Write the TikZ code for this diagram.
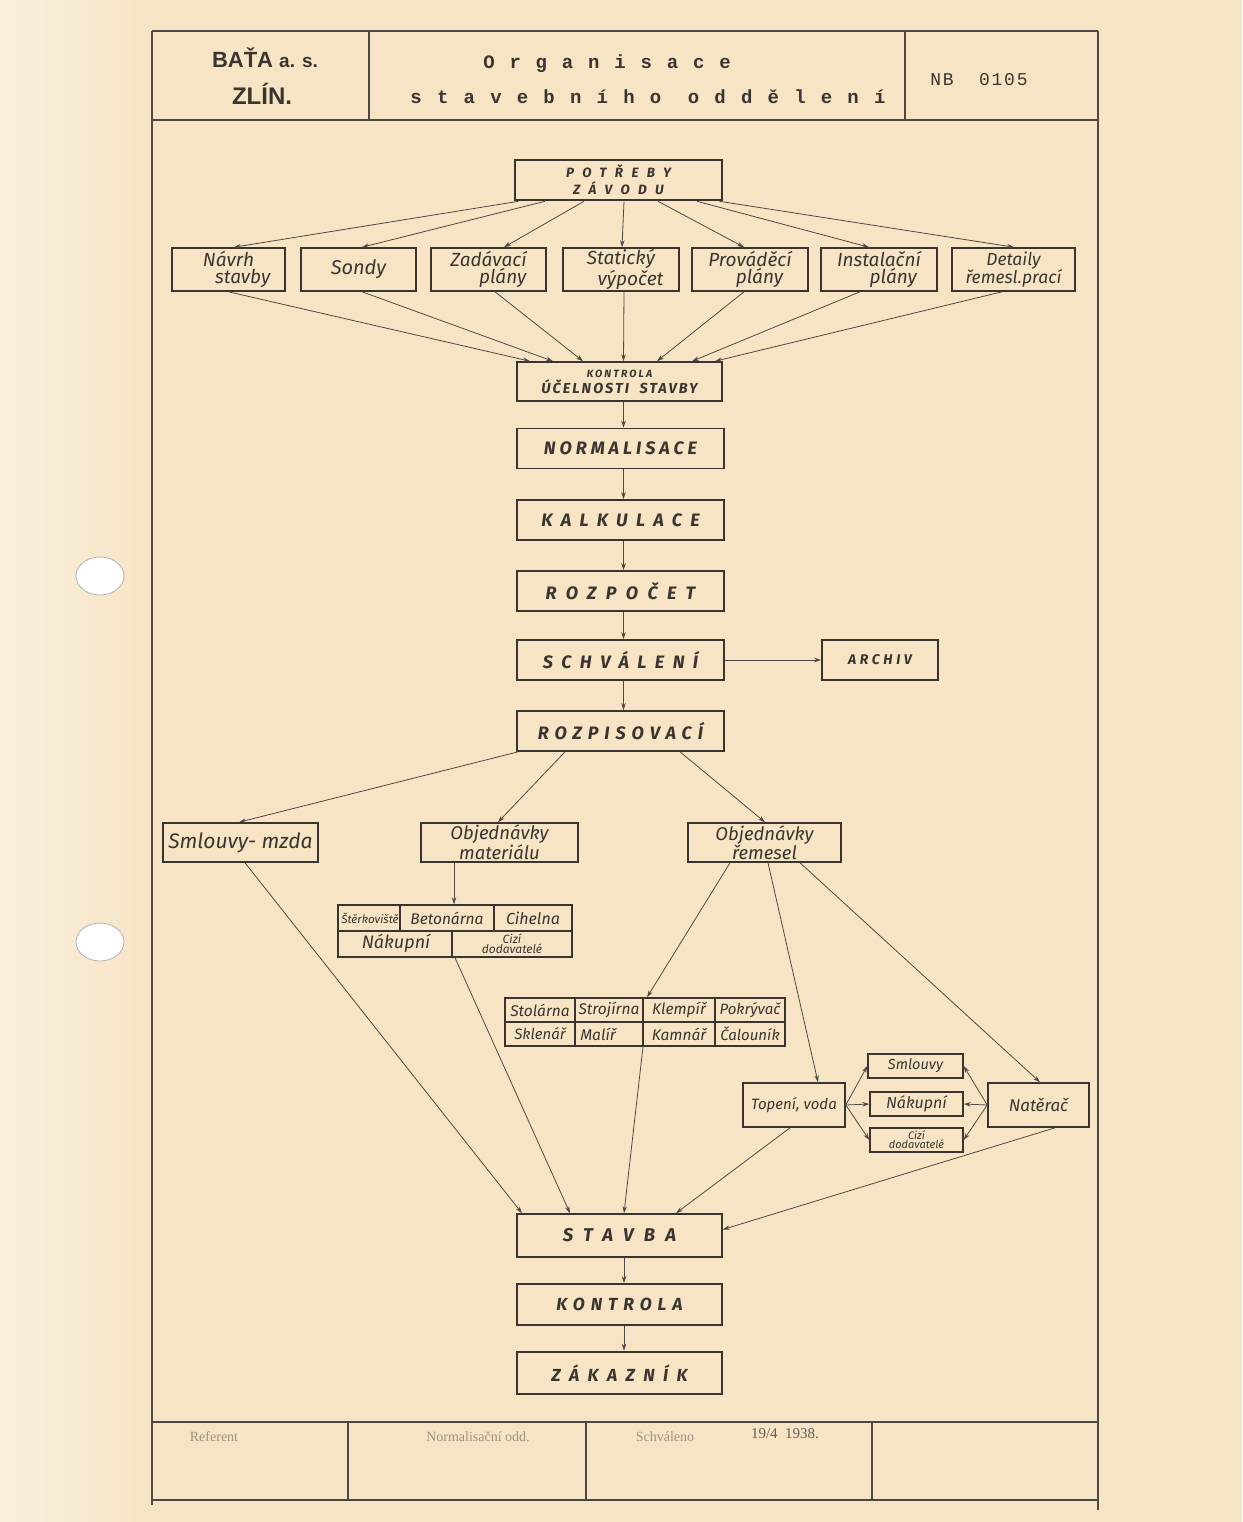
\documentclass[tikz,border=0pt]{standalone}
\usepackage{fontspec}
\usetikzlibrary{arrows.meta,calc}
\setmainfont{Fira Sans}
\newfontfamily\handf{Fira Sans}
\newfontfamily\capsf{Fira Sans}
\newfontfamily\typef{Liberation Mono}
\newfontfamily\boldsf{Liberation Sans}
\newfontfamily\fadedf{Liberation Serif}
\definecolor{paper}{HTML}{F6E4C5}
\definecolor{paperlight}{HTML}{FAF0DF}
\definecolor{ink}{HTML}{3A3430}
\definecolor{fadeink}{HTML}{9C9284}
\tikzset{
  box/.style={draw=ink, line width=1.6pt, rectangle, inner sep=0pt, align=center, text=ink},
  thickbox/.style={box, line width=2.6pt},
  cell/.style={draw=ink, line width=1.1pt},
  arr/.style={draw=ink!90, line width=0.8pt, -{Stealth[length=7pt,width=4.5pt]}},
  frame/.style={draw=ink!90, line width=2.2pt},
  caps/.style 2 args={font=\capsf\bfseries\itshape\fontsize{#1}{#1}\selectfont\addfontfeature{LetterSpace=#2}},
  hand/.style 2 args={font=\handf\itshape\fontsize{#1}{#2}\selectfont},
  lbl/.style={inner sep=0pt, text=ink, align=center},
}
\begin{document}
\begin{tikzpicture}[x=1pt,y=-1pt]
\useasboundingbox (0,0) rectangle (1242,1522);
\fill[paper] (0,0) rectangle (1242,1522);
\shade[left color=paperlight, right color=paper] (0,0) rectangle (150,1522);
% punch holes
\fill[white, draw=black!30, line width=0.8pt] (100,576) ellipse (24pt and 19pt);
\fill[white, draw=black!30, line width=0.8pt] (100,942) ellipse (24pt and 19pt);

% frame
\draw[frame] (152,31) -- (1098,31);
\draw[frame] (152,31) -- (152,1505);
\draw[frame] (1098,31) -- (1098,1510);
\draw[frame, line width=1.6pt] (152,120) -- (1098,120);
\draw[frame, line width=1.6pt] (369,31) -- (369,120);
\draw[frame, line width=1.6pt] (905,31) -- (905,120);
\draw[frame, line width=1.4pt] (152,1422) -- (1098,1422);
\draw[frame, line width=1.8pt] (152,1500) -- (1098,1500);
\draw[frame, line width=1.2pt] (348,1422) -- (348,1500);
\draw[frame, line width=1.2pt] (586,1422) -- (586,1500);
\draw[frame, line width=1.2pt] (872,1422) -- (872,1500);

% header
\node[lbl, font=\boldsf\bfseries\fontsize{22}{22}\selectfont] (bata) at (265,58) {BAŤA {\fontsize{19}{19}\selectfont a. s.}};
\node[lbl, font=\boldsf\bfseries\fontsize{24}{24}\selectfont] (zlin) at (262,94) {ZLÍN.};
\node[lbl, font=\typef\bfseries\fontsize{19}{19}\selectfont\addfontfeature{LetterSpace=78}] (org) at (607,64) {Organisace};
\node[lbl, font=\typef\bfseries\fontsize{19}{19}\selectfont\addfontfeature{LetterSpace=80}] (stav) at (648,97) {stavebního oddělení};
\node[lbl, font=\typef\fontsize{18}{18}\selectfont\addfontfeature{LetterSpace=10}] (nb) at (979,80) {NB\ \ 0105};

% footer
\node[lbl, text=fadeink, font=\fadedf\fontsize{14}{14}\selectfont] (ref) at (214,1437) {Referent};
\node[lbl, text=fadeink, font=\fadedf\fontsize{14}{14}\selectfont] (norm2) at (478,1437) {Normalisační odd.};
\node[lbl, text=fadeink, font=\fadedf\fontsize{14}{14}\selectfont] (schv2) at (665,1437) {Schváleno};
\node[lbl, text=ink!80, font=\fadedf\fontsize{15}{15}\selectfont] (date) at (785,1434) {19/4\ \ 1938.};

% main boxes
\node[thickbox, minimum width=207pt, minimum height=40pt, caps={13.5}{62}] (pot) at (618.5,180) {POTŘEBY\\[4pt]ZÁVODU};

\node[box, minimum width=113pt, minimum height=43pt, hand={19}{17}] (navrh) at (228.5,269.5) {Návrh\\\hspace*{1.5em}stavby};
\node[box, minimum width=115pt, minimum height=43pt, hand={20}{17}] (sondy) at (358.5,269.5) {Sondy};
\node[box, minimum width=115pt, minimum height=43pt, hand={19}{17}] (zadav) at (488.5,269.5) {Zadávací\\\hspace*{1.5em}plány};
\node[box, minimum width=116pt, minimum height=43pt, hand={19}{17}] (stat) at (621,269.5) {Statický\\\hspace*{1em}výpočet};
\node[box, minimum width=116pt, minimum height=43pt, hand={19}{17}] (provad) at (750,269.5) {Prováděcí\\\hspace*{1em}plány};
\node[box, minimum width=116pt, minimum height=43pt, hand={19}{17}] (instal) at (879,269.5) {Instalační\\\hspace*{1.5em}plány};
\node[box, minimum width=123pt, minimum height=43pt, hand={17.5}{17}] (detail) at (1013.5,269.5) {Detaily\\řemesl.prací};

\node[box, minimum width=205pt, minimum height=39pt] (kucel) at (619.5,381.5)
  {{\capsf\bfseries\itshape\fontsize{10.5}{11}\selectfont\addfontfeature{LetterSpace=20}KONTROLA}\\[1pt]
   {\capsf\bfseries\itshape\fontsize{14.5}{14}\selectfont\addfontfeature{LetterSpace=14}ÚČELNOSTI\ \ STAVBY}};

\node[box, minimum width=207pt, minimum height=40pt, caps={18}{22}] (normal) at (620.5,448.5) {NORMALISACE};
\node[box, minimum width=207pt, minimum height=40pt, caps={18}{46}] (kalk) at (620.5,520) {KALKULACE};
\node[box, minimum width=207pt, minimum height=40pt, caps={18}{52}] (rozp) at (620.5,591) {ROZPOČET};
\node[box, minimum width=207pt, minimum height=40pt, caps={18}{47}] (schv) at (620.5,660) {SCHVÁLENÍ};
\node[box, minimum width=116pt, minimum height=40pt, caps={14}{26}] (archiv) at (880,660) {ARCHIV};
\node[box, minimum width=207pt, minimum height=40pt, caps={18}{33}] (rozpis) at (620.5,731) {ROZPISOVACÍ};

\node[box, minimum width=155pt, minimum height=39pt, hand={21}{16}] (smlmzda) at (240.5,842.5) {Smlouvy- mzda};
\node[box, minimum width=157pt, minimum height=39pt, hand={18.5}{16}] (objmat) at (499.5,842.5) {Objednávky\\materiálu};
\node[box, minimum width=153pt, minimum height=39pt, hand={18.5}{16}] (objrem) at (764.5,842.5) {Objednávky\\řemesel};

% material table
\node[box, line width=1.4pt, minimum width=234pt, minimum height=52pt] (mat) at (455,931) {};
\draw[cell] (mat.west) -- (mat.east);
\draw[cell] ([xshift=-55pt]mat.north) -- ([xshift=-55pt]mat.center);
\draw[cell] ([xshift=39pt]mat.north) -- ([xshift=39pt]mat.center);
\draw[cell] ([xshift=-3pt]mat.center) -- ([xshift=-3pt]mat.south);
\node[lbl, hand={11.5}{11}] (m1) at (370,918) {Štěrkoviště};
\node[lbl, hand={15.5}{15}] (m2) at (447,918) {Betonárna};
\node[lbl, hand={16}{15}] (m3) at (533,918) {Cihelna};
\node[lbl, hand={18}{17}] (m4) at (396,943) {Nákupní};
\node[lbl, hand={12}{10}] (m5) at (512,944) {Cizí\\dodavatelé};

% craft table
\node[box, line width=1.4pt, minimum width=280pt, minimum height=48pt] (craft) at (645,1022) {};
\draw[cell] (craft.west) -- (craft.east);
\draw[cell] ([xshift=-70pt]craft.north) -- ([xshift=-70pt]craft.south);
\draw[cell] ([xshift=-2pt]craft.north) -- ([xshift=-2pt]craft.south);
\draw[cell] ([xshift=70pt]craft.north) -- ([xshift=70pt]craft.south);
\node[lbl, hand={15.5}{15}] (c1) at (540,1010) {Stolárna};
\node[lbl, hand={15.5}{15}] (c2) at (609,1010) {Strojírna};
\node[lbl, hand={15.5}{15}] (c3) at (679,1010) {Klempíř};
\node[lbl, hand={15}{15}] (c4) at (750,1010) {Pokrývač};
\node[lbl, hand={15}{15}] (c5) at (540,1034) {Sklenář};
\node[lbl, hand={15.5}{15}] (c6) at (598,1034) {Malíř};
\node[lbl, hand={15.5}{15}] (c7) at (679,1034) {Kamnář};
\node[lbl, hand={15}{15}] (c8) at (750,1034) {Čalouník};

% lower right cluster
\node[box, minimum width=102pt, minimum height=44pt, hand={15}{15}] (topeni) at (794,1105) {Topení, voda};
\node[box, line width=1.4pt, minimum width=95pt, minimum height=24pt, hand={14.5}{14}] (smlouvy) at (915.5,1066) {Smlouvy};
\node[box, line width=1.4pt, minimum width=93pt, minimum height=24pt, hand={16}{15}] (nakupni) at (916.5,1104) {Nákupní};
\node[box, line width=1.4pt, minimum width=93pt, minimum height=24pt, hand={11}{9}] (cizi) at (916.5,1140) {Cizí\\dodavatelé};
\node[box, minimum width=101pt, minimum height=44pt, hand={17}{16}] (natera) at (1038.5,1105) {Natěrač};

\node[box, minimum width=205pt, minimum height=43pt, caps={18.5}{56}] (stavba) at (619.5,1235.5) {STAVBA};
\node[box, minimum width=205pt, minimum height=41pt, caps={17.5}{34}] (kontrola) at (619.5,1304.5) {KONTROLA};
\node[thickbox, minimum width=205pt, minimum height=42pt, caps={17.5}{48}] (zakaznik) at (619.5,1373) {ZÁKAZNÍK};

% arrows from POTREBY
\draw[arr] ([xshift=-100pt]pot.south) -- ([xshift=5.5pt]navrh.north);
\draw[arr] ([xshift=-73.5pt]pot.south) -- ([xshift=3.5pt]sondy.north);
\draw[arr] ([xshift=-34.5pt]pot.south) -- ([xshift=15.5pt]zadav.north);
\draw[arr] ([xshift=5.5pt]pot.south) -- ([xshift=1pt]stat.north);
\draw[arr] ([xshift=39.5pt]pot.south) -- ([xshift=-6pt]provad.north);
\draw[arr] ([xshift=78.5pt]pot.south) -- ([xshift=-10pt]instal.north);
\draw[arr] ([xshift=101pt]pot.south) -- ([xshift=0.5pt]detail.north);

% arrows to KONTROLA UCELNOSTI
\draw[arr] (navrh.south) -- ([xshift=-89.5pt]kucel.north);
\draw[arr] ([xshift=3.5pt]sondy.south) -- ([xshift=-66.5pt]kucel.north);
\draw[arr] ([xshift=6.5pt]zadav.south) -- ([xshift=-36.5pt]kucel.north);
\draw[arr] ([xshift=3pt]stat.south) -- ([xshift=4pt]kucel.north);
\draw[arr] ([xshift=-6pt]provad.south) -- ([xshift=37.5pt]kucel.north);
\draw[arr] ([xshift=-19pt]instal.south) -- ([xshift=72.5pt]kucel.north);
\draw[arr] ([xshift=-11.5pt]detail.south) -- ([xshift=95.5pt]kucel.north);

% main chain
\draw[arr] ([xshift=4pt]kucel.south) -- ([xshift=3pt]normal.north);
\draw[arr] ([xshift=3pt]normal.south) -- ([xshift=3pt]kalk.north);
\draw[arr] ([xshift=3pt]kalk.south) -- ([xshift=3pt]rozp.north);
\draw[arr] ([xshift=3pt]rozp.south) -- ([xshift=3pt]schv.north);
\draw[arr] ([xshift=3pt]schv.south) -- ([xshift=3pt]rozpis.north);
\draw[arr] (schv.east) -- (archiv.west);

% distribution
\draw[arr] ([xshift=2pt]rozpis.south west) -- ([xshift=-1.5pt]smlmzda.north);
\draw[arr] ([xshift=-55.5pt]rozpis.south) -- ([xshift=-1.5pt]objmat.north);
\draw[arr] ([xshift=59.5pt]rozpis.south) -- ([xshift=0.5pt]objrem.north);

\draw[arr] ([xshift=-45.5pt]objmat.south) -- ([xshift=-1pt]mat.north);
\draw[arr] ([xshift=-34.5pt]objrem.south) -- ([xshift=2pt]craft.north);
\draw[arr] ([xshift=3.5pt]objrem.south) -- ([xshift=24pt]topeni.north);
\draw[arr] ([xshift=35.5pt]objrem.south) -- ([xshift=1.5pt]natera.north);

\draw[arr] (topeni.east) -- (smlouvy.west);
\draw[arr] (topeni.east) -- (nakupni.west);
\draw[arr] (topeni.east) -- (cizi.west);
\draw[arr] (natera.west) -- (smlouvy.east);
\draw[arr] (natera.west) -- (nakupni.east);
\draw[arr] (natera.west) -- (cizi.east);

% into STAVBA
\draw[arr] ([xshift=4.5pt]smlmzda.south) -- ([xshift=-97.5pt]stavba.north);
\draw[arr] (mat.south) -- ([xshift=-49.5pt]stavba.north);
\draw[arr] ([xshift=-2pt]craft.south) -- ([xshift=4.5pt]stavba.north);
\draw[arr] ([xshift=-4pt]topeni.south) -- ([xshift=56.5pt]stavba.north);
\draw[arr] ([xshift=16.5pt]natera.south) -- ([yshift=6pt]stavba.east);

\draw[arr] ([xshift=4.5pt]stavba.south) -- ([xshift=4.5pt]kontrola.north);
\draw[arr] ([xshift=4.5pt]kontrola.south) -- ([xshift=4.5pt]zakaznik.north);
\end{tikzpicture}
\end{document}
